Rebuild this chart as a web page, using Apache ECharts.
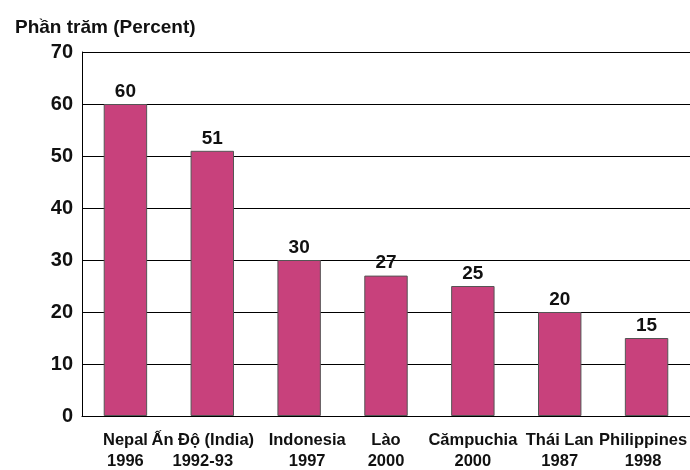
<!DOCTYPE html>
<html><head><meta charset="utf-8">
<script src="https://cdn.jsdelivr.net/npm/echarts@6/dist/echarts.min.js"></script>
<style>html,body{margin:0;padding:0;background:#fff}#c{width:690px;height:470px}</style>
</head><body><div id="c"></div>
<script>
var countries = ['Nepal', 'Ấn Độ (India)', 'Indonesia', 'Lào', 'Cămpuchia', 'Thái Lan', 'Philippines'];
var years = ['1996', '1992-93', '1997', '2000', '2000', '1987', '1998'];
var values = [60, 51, 30, 27, 25, 20, 15];
var yTitle = 'Phần trăm (Percent)';
var categories = countries.map(function (c, i) { return c + '\n' + years[i]; });

var font = 'Liberation Sans, Arial, sans-serif';
// label nudges (style only): rich style name per category index
var nudge = ['n', 'l', 'r', 'n', 'n', 'n', 'p'];
var base = {color:'#111', fontFamily: font, fontWeight:'bold', fontSize:16.5, lineHeight:21};
function sty(pad) { var o = Object.assign({}, base); o.padding = pad; return o; }

var chart = echarts.init(document.getElementById('c'));
chart.setOption({
  animation: false,
  graphic: [{type:'text', left: 15, top: 18, style:{text: yTitle, font: 'bold 19px ' + font, fill:'#111'}}],
  grid: {left: 82, right: 0, top: 52, bottom: 54, outerBoundsMode: 'none'},
  xAxis: {type:'category', data: categories,
    axisLine:{show:true, lineStyle:{color:'#000', width:1}}, axisTick:{show:false},
    axisLabel:{color:'#111', fontFamily: font, fontWeight:'bold', fontSize:16.5, lineHeight:21, margin:14, interval:0,
      formatter: function (v, i) {
        var k = nudge[i];
        return v.split('\n').map(function (s) { return '{' + k + '|' + s + '}'; }).join('\n');
      },
      rich: {
        n: sty([0, 0, 0, 0]),
        l: sty([0, 19, 0, 0]),
        r: sty([0, 0, 0, 16]),
        p: sty([0, 7, 0, 0])
      }}},
  yAxis: {type:'value', min:0, max:70, interval:10,
    axisLine:{show:true, lineStyle:{color:'#000', width:1}}, axisTick:{show:false},
    splitLine:{show:true, lineStyle:{color:'#000', width:1}},
    axisLabel:{color:'#111', fontFamily: font, fontWeight:'bold', fontSize:20, margin:9}},
  series: [{type:'bar', data: values, barWidth:'50%',
    itemStyle:{color:'#c8417c', borderColor:'#555', borderWidth:1},
    label:{show:true, position:'top', distance:3, color:'#111', fontFamily: font, fontWeight:'bold', fontSize:19}}]
});
</script></body></html>
